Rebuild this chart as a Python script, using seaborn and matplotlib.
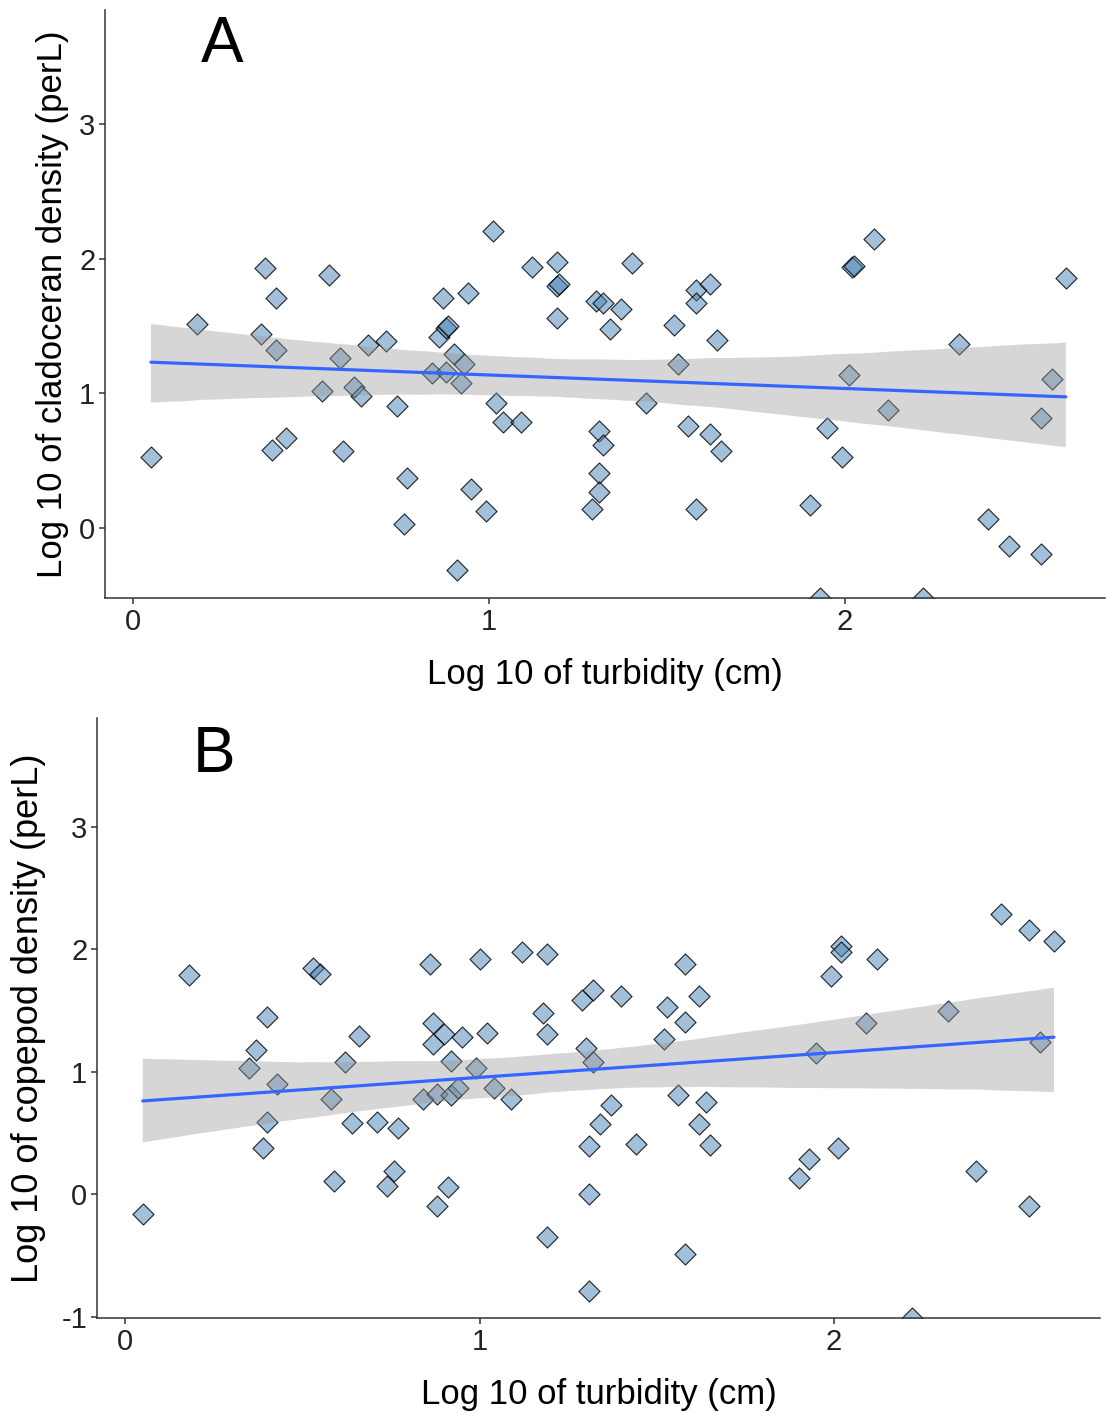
import numpy as np
import pandas as pd
import matplotlib
matplotlib.use("Agg")
import matplotlib.pyplot as plt
import seaborn as sns

# ---------------- data ----------------
# Panel A: cladocerans
clad_turbidity = [0.05, 0.18, 0.37, 0.36, 0.40, 0.40, 0.39, 0.43, 0.55, 0.58,
                  0.53, 0.59, 0.62, 0.64, 0.66, 0.71, 0.74, 0.77, 0.76, 0.84,
                  0.87, 0.86, 0.88, 0.885, 0.88, 0.90, 0.93, 0.92, 0.91, 0.95,
                  0.94, 0.99, 1.01, 1.02, 1.04, 1.09, 1.12, 1.19, 1.19, 1.195,
                  1.19, 1.30, 1.32, 1.37, 1.34, 1.40, 1.52, 1.58, 1.62, 1.58,
                  1.64, 1.53, 1.44, 1.31, 1.32, 1.31, 1.31, 1.29, 1.56, 1.62,
                  1.65, 1.58, 2.01, 2.02, 2.025, 2.08, 1.95, 1.99, 1.90, 1.93,
                  2.62, 2.32, 2.12, 2.58, 2.55, 2.40, 2.46, 2.55, 2.22]
clad_density = [0.53, 1.52, 1.93, 1.44, 1.71, 1.32, 0.58, 0.67, 1.88, 1.26,
                1.02, 0.57, 1.05, 0.98, 1.36, 1.39, 0.91, 0.37, 0.03, 1.15,
                1.71, 1.42, 1.49, 1.50, 1.16, 1.29, 1.22, 1.08, -0.31, 0.29,
                1.75, 0.13, 2.21, 0.93, 0.79, 0.79, 1.94, 1.98, 1.80, 1.81,
                1.56, 1.69, 1.67, 1.63, 1.48, 1.97, 1.51, 1.77, 1.81, 1.67,
                1.40, 1.22, 0.93, 0.72, 0.62, 0.41, 0.27, 0.14, 0.76, 0.70,
                0.57, 0.14, 1.14, 1.94, 1.945, 2.15, 0.74, 0.53, 0.17, -0.52,
                1.86, 1.37, 0.88, 1.11, 0.82, 0.07, -0.13, -0.19, -0.52]

# Panel B: copepods
cope_turbidity = [0.05, 0.18, 0.40, 0.37, 0.35, 0.43, 0.40, 0.39, 0.53, 0.55,
                  0.66, 0.62, 0.58, 0.64, 0.71, 0.77, 0.59, 0.76, 0.74, 0.86,
                  0.87, 0.90, 0.87, 0.95, 0.92, 0.99, 0.84, 0.88, 0.92, 0.94,
                  0.91, 0.88, 1.00, 1.02, 1.12, 1.19, 1.04, 1.09, 1.18, 1.19,
                  1.19, 1.29, 1.32, 1.40, 1.30, 1.32, 1.37, 1.34, 1.31, 1.44,
                  1.31, 1.31, 1.58, 1.53, 1.62, 1.58, 1.52, 1.56, 1.64, 1.62,
                  1.65, 1.58, 2.02, 2.02, 1.99, 2.12, 2.09, 1.95, 1.93, 1.90,
                  2.01, 2.47, 2.55, 2.62, 2.32, 2.58, 2.40, 2.55, 2.22]
cope_density = [-0.16, 1.79, 1.45, 1.18, 1.03, 0.90, 0.59, 0.38, 1.85, 1.80,
                1.29, 1.08, 0.78, 0.58, 0.59, 0.54, 0.11, 0.19, 0.07, 1.88,
                1.40, 1.31, 1.23, 1.28, 1.09, 1.03, 0.78, 0.82, 0.81, 0.87,
                0.06, -0.10, 1.92, 1.32, 1.98, 1.96, 0.87, 0.78, 1.48, 1.31,
                -0.35, 1.59, 1.67, 1.62, 1.19, 1.08, 0.73, 0.57, 0.39, 0.41,
                0.00, -0.79, 1.88, 1.53, 1.62, 1.41, 1.27, 0.81, 0.75, 0.57,
                0.40, -0.49, 2.03, 1.98, 1.78, 1.92, 1.40, 1.15, 0.29, 0.13,
                0.38, 2.29, 2.16, 2.07, 1.50, 1.24, 0.19, -0.10, -1.01]

x_ticks = [0, 1, 2]
yticks_A = [0, 1, 2, 3]
yticks_B = [-1, 0, 1, 2, 3]
x_label = "Log 10 of turbidity (cm)"
ylabel_A = "Log 10 of cladoceran density (perL)"
ylabel_B = "Log 10 of copepod density (perL)"

# ---------------- style ----------------
sns.set_theme(style="ticks")
plt.rcParams['font.family'] = ['Liberation Sans', 'DejaVu Sans']

AX_COL = "#333333"
POINT_FACE = (70 / 255, 130 / 255, 180 / 255, 0.5)
POINT_EDGE = (0, 0, 0, 0.8)
LINE_COL = "#3366FF"

fig = plt.figure(figsize=(11.07, 14.14), dpi=100)
axA = fig.add_axes([105 / 1107, 1 - 598 / 1414, 1000 / 1107, 588 / 1414])
axB = fig.add_axes([97 / 1107, 1 - 1318 / 1414, 1003 / 1107, 600 / 1414])


def draw_panel(ax, x, y, xlim, ylim, yticks, ylabel, letter,
               xlabelpad, ylabelpad, ylabelsize):
    df = pd.DataFrame({"x": x, "y": y})
    sns.scatterplot(data=df, x="x", y="y", ax=ax, marker="D", s=115,
                    facecolor=POINT_FACE, edgecolor=POINT_EDGE,
                    linewidth=0.85, legend=False, zorder=1)
    # the smoother only uses observations inside the plotted y-range
    fit_df = df[df["y"] > ylim[0] + 0.04]
    n_before = len(ax.collections)
    sns.regplot(data=fit_df, x="x", y="y", ax=ax, scatter=False,
                color=LINE_COL, line_kws={"linewidth": 2.3}, n_boot=2000,
                seed=7, ci=95, truncate=True)
    for coll in ax.collections[n_before:]:
        coll.set_facecolor((0.6, 0.6, 0.6))
        coll.set_alpha(0.4)
        coll.set_edgecolor("none")
    ax.set_xlim(*xlim)
    ax.set_ylim(*ylim)
    ax.set_xticks(x_ticks)
    ax.set_yticks(yticks)
    ax.set_xticklabels([str(t) for t in x_ticks])
    ax.set_yticklabels([str(t) for t in yticks])
    ax.set_xlabel(x_label, fontsize=25, color="black", labelpad=xlabelpad)
    ax.set_ylabel(ylabel, fontsize=ylabelsize, color="black",
                  labelpad=ylabelpad)
    ax.tick_params(axis="both", labelsize=21, colors="#222222",
                   length=4, width=1.1, pad=3, direction="out")
    ax.tick_params(axis="both", color=AX_COL)
    for side in ["top", "right"]:
        ax.spines[side].set_visible(False)
    for side in ["left", "bottom"]:
        ax.spines[side].set_color(AX_COL)
        ax.spines[side].set_linewidth(1.1)
    ax.text(0.25, 3.59, letter, fontsize=46, ha="center", va="center",
            color="black")
    ax.grid(False)


draw_panel(axA, clad_turbidity, clad_density, (-0.079, 2.73), (-0.52, 3.85),
           yticks_A, ylabel_A, "A", 16, 7, 25)
draw_panel(axB, cope_turbidity, cope_density, (-0.079, 2.75), (-1.012, 3.89),
           yticks_B, ylabel_B, "B", 16, 11, 26)

fig.savefig("out.png", dpi=100, facecolor="white")
